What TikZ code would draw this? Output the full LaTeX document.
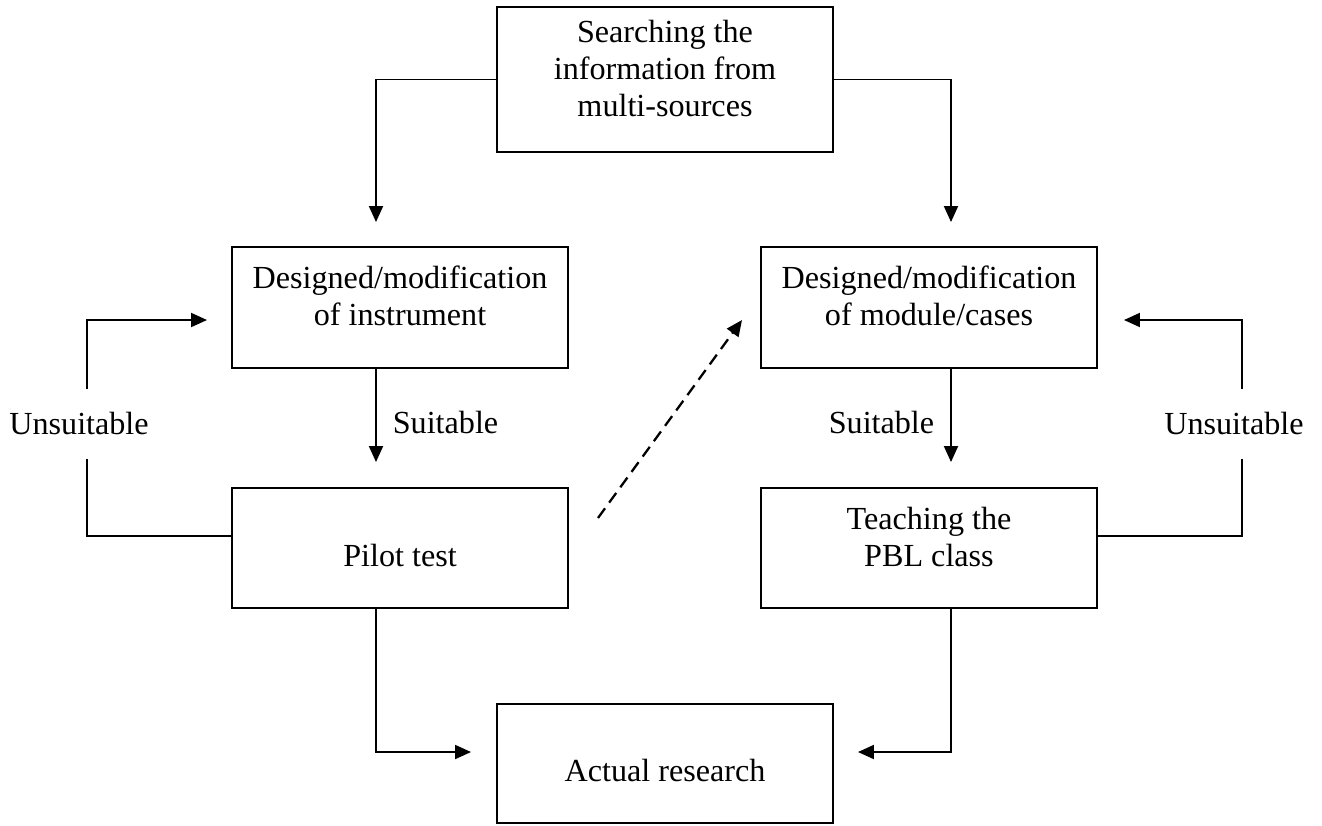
\documentclass[tikz,border=0pt]{standalone}
\usepackage{fontspec}
\setmainfont{Liberation Serif}
\usetikzlibrary{arrows.meta}

\newcommand{\txtup}{\rule[-13pt]{0pt}{13pt}}
\newcommand{\txtdown}{\rule{0pt}{21pt}}

\begin{document}
\begin{tikzpicture}[
    font=\fontsize{18.3}{21}\selectfont,
    line width=1.1pt,
    arr/.style={-{Triangle[length=0.32cm, width=0.28cm]}},
    gap/.style={fill=white, minimum height=1.4cm}
]
    \useasboundingbox (0,0) rectangle (26.44,-16.5);
    {
        \tikzset{every node/.style = {shape=rectangle, draw, align=center, inner sep=0pt, minimum width=6.72cm, minimum height=2.42cm}}

        \node (srch) at (13.3, -1.59) [minimum height=2.9cm] {Searching the\\information from\\multi-sources\txtup};
        \node (dmi) at (8.0, -6.15) {Designed/modification\\of instrument\txtup};
        \node (dmm) at (18.58, -6.15) {Designed/modification\\of module/cases\txtup};
        \node (pilot) at (8.0, -10.96) [minimum height=2.4cm] {\txtdown Pilot test};
        \node (teach) at (18.58, -10.96) [minimum height=2.4cm] {Teaching the\\PBL class\txtup};
        \node (act) at (13.3, -15.27) [minimum height=2.38cm] {\txtdown Actual research};
    }

        \draw[arr, shorten >=0.48cm] (srch.west) -| ([xshift=-0.48cm]dmi.north);
        \draw[arr, shorten >=0.48cm] (srch.east) -| ([xshift=0.44cm]dmm.north);
        \draw[arr, shorten >=0.5cm] ([xshift=-0.48cm]dmi.south) -- node[right=0.2cm, pos=0.45] {Suitable} ([xshift=-0.48cm]pilot.north);
        \draw[arr, shorten >=0.5cm] ([xshift=0.44cm]dmm.south) -- node[left=0.2cm, pos=0.45] {Suitable} ([xshift=0.44cm]teach.north);
        \draw[arr, shorten >=0.48cm] ([yshift=0.24cm]pilot.west) -- ++(-2.88,0) |- node[gap, pos=0.26, xshift=-0.16cm] {Unsuitable} ([yshift=-0.25cm]dmi.west);
        \draw[arr, shorten >=0.52cm] ([yshift=0.24cm]teach.east) -- ++(2.88,0) |- node[gap, pos=0.26, xshift=-0.16cm] {Unsuitable} ([yshift=-0.25cm]dmm.east);
        \draw[arr, line width=1.3pt, dash pattern=on 0.24cm off 0.14cm] ([shift={(0.58cm,0.6cm)}]pilot.east) -- ([shift={(-0.36cm,-0.25cm)}]dmm.west);
        \draw[arr, shorten >=0.5cm] ([xshift=-0.48cm]pilot.south) |- ([yshift=0.23cm]act.west);
        \draw[arr, shorten >=0.48cm] ([xshift=0.44cm]teach.south) |- ([yshift=0.23cm]act.east);

\end{tikzpicture}
\end{document}
